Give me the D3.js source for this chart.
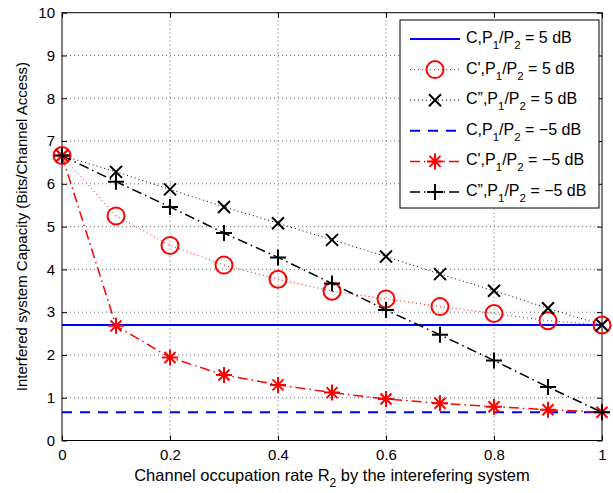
<!DOCTYPE html>
<html><head><meta charset="utf-8">
<script src="https://cdn.jsdelivr.net/npm/d3@7"></script>
<style>
html,body{margin:0;padding:0;background:#fff;}
svg{display:block;font-family:"Liberation Sans",Arial,Helvetica,sans-serif;}
</style></head>
<body>
<svg id="chart" width="613" height="493"></svg>
<script>
// ---- data ----
const xValues = [0,0.1,0.2,0.3,0.4,0.5,0.6,0.7,0.8,0.9,1.0];
const cHigh = [2.70,2.70,2.70,2.70,2.70,2.70,2.70,2.70,2.70,2.70,2.70];
const cPrimeHigh = [6.66,5.25,4.56,4.10,3.77,3.49,3.31,3.13,2.97,2.80,2.70];
const cDoubleHigh = [6.66,6.28,5.87,5.46,5.08,4.69,4.30,3.89,3.50,3.09,2.70];
const cLow = [0.66,0.66,0.66,0.66,0.66,0.66,0.66,0.66,0.66,0.66,0.66];
const cPrimeLow = [6.66,2.68,1.94,1.53,1.30,1.12,0.97,0.87,0.79,0.72,0.66];
const cDoubleLow = [6.66,6.05,5.46,4.85,4.28,3.67,3.05,2.47,1.87,1.25,0.66];
const xTicks = [0,0.2,0.4,0.6,0.8,1];
const yTicks = [0,1,2,3,4,5,6,7,8,9,10];
const legendPrefixes = ["C","C'","C\u201D","C","C'","C\u201D"];
const legendSuffixes = [" = 5 dB"," = 5 dB"," = 5 dB"," = \u22125 dB"," = \u22125 dB"," = \u22125 dB"];

const series = [
  {vals:cHigh, color:"#0000ff", dash:null, width:2, marker:null},
  {vals:cPrimeHigh, color:"#ff0000", dash:"1,3", width:1, marker:"circle"},
  {vals:cDoubleHigh, color:"#000000", dash:"1,3", width:1, marker:"x"},
  {vals:cLow, color:"#0000ff", dash:"10,8", width:2, marker:null},
  {vals:cPrimeLow, color:"#ff0000", dash:"10,4,1.5,4", width:1.5, marker:"star"},
  {vals:cDoubleLow, color:"#000000", dash:"10,4,1.5,4", width:1.5, marker:"plus"}
];

const svg = d3.select("#chart");
const L=62, R=602, T=12.7, B=440.5;
const x = d3.scaleLinear().domain([0,1]).range([L,R]);
const y = d3.scaleLinear().domain([0,10]).range([B,T]);

// grid
const g = svg.append("g");
g.selectAll(".gx").data(xTicks.slice(1,-1)).enter().append("line")
  .attr("x1",d=>x(d)).attr("x2",d=>x(d)).attr("y1",T).attr("y2",B)
  .attr("stroke","#444").attr("stroke-width",0.8).attr("stroke-dasharray","1,3");
g.selectAll(".gy").data(yTicks.slice(1,-1)).enter().append("line")
  .attr("y1",d=>y(d)).attr("y2",d=>y(d)).attr("x1",L).attr("x2",R)
  .attr("stroke","#444").attr("stroke-width",0.8).attr("stroke-dasharray","1,3");

// axes
const fmt = d=> d===0||d===1 ? String(d) : d3.format(".1f")(d);
const axB = svg.append("g").attr("transform",`translate(0,${B})`)
  .call(d3.axisBottom(x).tickValues(xTicks).tickFormat(fmt).tickSizeInner(-5).tickSizeOuter(0).tickPadding(9));
const axT = svg.append("g").attr("transform",`translate(0,${T})`)
  .call(d3.axisTop(x).tickValues(xTicks).tickFormat("").tickSizeInner(-5).tickSizeOuter(0));
const axL = svg.append("g").attr("transform",`translate(${L},0)`)
  .call(d3.axisLeft(y).tickValues(yTicks).tickSizeInner(-5).tickSizeOuter(0).tickPadding(7));
const axR = svg.append("g").attr("transform",`translate(${R},0)`)
  .call(d3.axisRight(y).tickValues(yTicks).tickFormat("").tickSizeInner(-5).tickSizeOuter(0));
[axB,axT,axL,axR].forEach(a=>{
  a.select(".domain").remove();
  a.selectAll("line").attr("stroke","#000");
  a.selectAll("text").attr("font-size",15).attr("fill","#000").attr("font-family","Liberation Sans, Arial, sans-serif");
});
svg.append("rect").attr("x",L).attr("y",T).attr("width",R-L).attr("height",B-T)
  .attr("fill","none").attr("stroke","#000").attr("stroke-width",1);

// markers
function drawMarker(sel, type, cx, cy, color){
  const s = sel.append("g").attr("transform",`translate(${cx},${cy})`)
    .attr("stroke",color).attr("fill","none").attr("stroke-width",2);
  if(type==="circle") s.append("circle").attr("r",8.5);
  else if(type==="x") s.append("path").attr("d","M-6,-6L6,6M-6,6L6,-6");
  else if(type==="plus") s.append("path").attr("d","M-8,0L8,0M0,-8L0,8");
  else if(type==="star") s.append("path").attr("d","M-8,0L8,0M0,-8L0,8M-5.5,-5.5L5.5,5.5M-5.5,5.5L5.5,-5.5");
}

const line = d3.line().x((d,i)=>x(xValues[i])).y(d=>y(d));
const plotG = svg.append("g");
series.forEach(s=>{
  plotG.append("path").datum(s.vals).attr("d",line).attr("fill","none")
    .attr("stroke",s.color).attr("stroke-width",s.width)
    .attr("stroke-dasharray",s.dash);
  if(s.marker){
    s.vals.forEach((v,i)=>drawMarker(plotG,s.marker,x(xValues[i]),y(v),s.color));
  }
});

// legend
const lg = svg.append("g");
lg.append("rect").attr("x",400).attr("y",20).attr("width",199).attr("height",188)
  .attr("fill","#fff").attr("stroke","#000").attr("stroke-width",1);
series.forEach((s,i)=>{
  const cy = 39 + i*30.6;
  lg.append("line").attr("x1",410).attr("x2",460).attr("y1",cy).attr("y2",cy)
    .attr("stroke",s.color).attr("stroke-width",s.width).attr("stroke-dasharray",s.dash);
  if(s.marker) drawMarker(lg,s.marker,435,cy,s.color);
  const t = lg.append("text").attr("x",466).attr("y",cy+4).attr("font-size",16).attr("fill","#000");
  t.append("tspan").text(legendPrefixes[i]+",P");
  t.append("tspan").attr("font-size",11.5).attr("dy",6).text("1");
  t.append("tspan").attr("dy",-6).text("/P");
  t.append("tspan").attr("font-size",11.5).attr("dy",6).text("2");
  t.append("tspan").attr("dy",-6).text(legendSuffixes[i]);
});

// axis labels
const xl = svg.append("text").attr("x",(L+R)/2).attr("y",481).attr("text-anchor","middle")
  .attr("font-size",16.5).attr("fill","#000");
xl.append("tspan").text("Channel occupation rate R");
xl.append("tspan").attr("font-size",12).attr("dy",6).text("2");
xl.append("tspan").attr("dy",-6).text(" by the interefering system");

svg.append("text").attr("transform",`translate(27,${(T+B)/2}) rotate(-90)`)
  .attr("text-anchor","middle").attr("font-size",15).attr("fill","#000")
  .text("Interfered system Capacity (Bits/Channel Access)");
</script>
</body></html>
